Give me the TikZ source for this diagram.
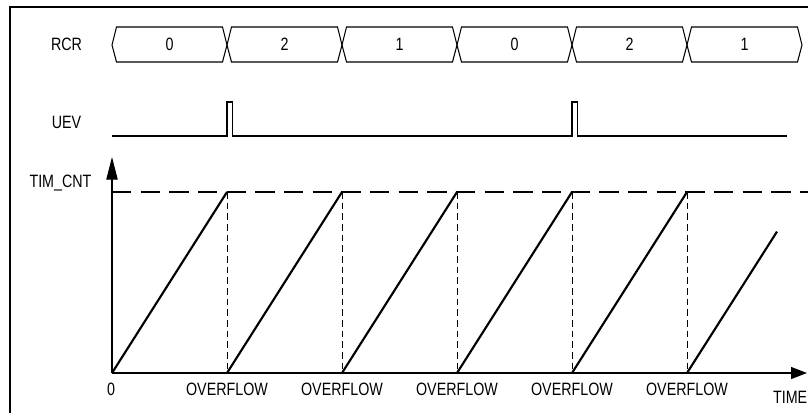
\documentclass[tikz,border=0pt]{standalone}
\usepackage{fontspec}
\setmainfont{Liberation Sans}[FakeStretch=0.8]
\usetikzlibrary{arrows.meta, positioning}

\begin{document}
\begin{tikzpicture}[x=0.75pt, y=-0.75pt,
    lbl/.style={font=\fontsize{13.4}{15}\selectfont, inner sep=0pt},
    bus/.style={line width=0.8pt},
    ramp/.style={line width=1.6pt},
    axis/.style={line width=0.9pt},
    guide/.style={line width=0.6pt, dash pattern=on 5pt off 3pt},
    toplim/.style={line width=1.1pt, dash pattern=on 14.5pt off 7pt}]

    \useasboundingbox (0,0) rectangle (808,412);

    % Frame
    \draw[line width=0.8pt] (10,420) -- (10,7) -- (820,7);

    % Signal names
    \node[lbl] (rcr) at (66.5,44) {RCR};
    \node[lbl] (uev) at (66.5,122) {UEV};
    \node[lbl] (cnt) at (60.5,183) {TIM\_CNT};

    % RCR bus
    \foreach \v [count=\i from 0] in {0,2,1,0,2,1} {
        \pgfmathsetmacro{\a}{112+115*\i}
        \pgfmathsetmacro{\b}{227+115*\i}
        \draw[bus] (\a,45) -- (\a+4.5,27) -- (\b-4.5,27) -- (\b,45) -- (\b-4.5,62) -- (\a+4.5,62) -- cycle;
        \node[lbl] (rcr\i) at ({(\a+\b)/2},44) {\v};
    }

    % UEV pulses
    \draw[bus] (112,136) -- (227,136) -- (227,102) -- (232.5,102) -- (232.5,136)
        -- (572,136) -- (572,102) -- (577.5,102) -- (577.5,136) -- (787,136);

    % Counter axes
    \coordinate (o) at (112,373);
    \coordinate (ytop) at (112,157);
    \coordinate (xend) at (807,373);
    \draw[axis, -{Triangle[length=17pt, width=8.5pt]}] (o) -- (ytop);
    \draw[axis, -{Triangle[length=12pt, width=9pt]}] (o) -- (xend);

    % Auto-reload level
    \coordinate (arr) at (112,192);
    \coordinate (arrend) at (808,192);
    \draw[toplim] (arr) -- (arrend);

    % Ramps and overflow guides
    \node[lbl] (zero) at (111,389) {0};
    \foreach \i in {0,...,4} {
        \coordinate (start\i) at (112+115*\i,373);
        \coordinate (peak\i) at (227+115*\i,192);
        \coordinate (foot\i) at (227+115*\i,373);
        \draw[ramp] (start\i) -- (peak\i);
        \draw[guide] (peak\i) -- (foot\i);
        \node[lbl] (ovf\i) at (227+115*\i,389) {OVERFLOW};
    }
    \coordinate (start5) at (687,373);
    \coordinate (last) at (777,231.6);
    \draw[ramp] (start5) -- (last);

    \node[lbl, anchor=east] (time) at (807.5,397) {TIME};
\end{tikzpicture}
\end{document}
